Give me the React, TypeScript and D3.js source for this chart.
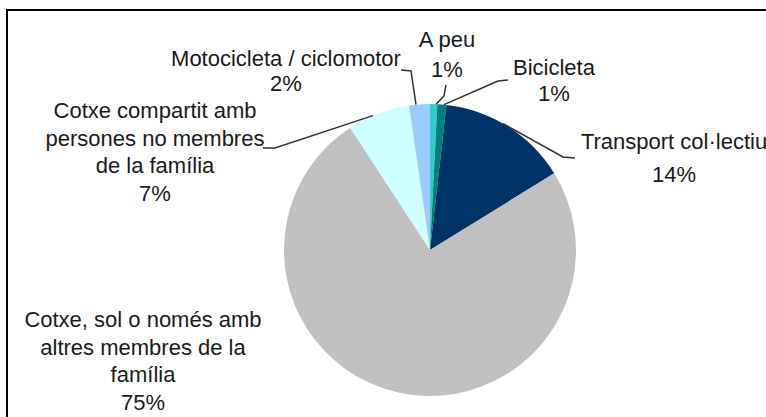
import React from "react";
import * as d3 from "d3";

const categories = [
  "A peu",
  "Bicicleta",
  "Transport col·lectiu",
  "Cotxe, sol o només amb altres membres de la família",
  "Cotxe compartit amb persones no membres de la família",
  "Motocicleta / ciclomotor",
];
const values = [0.8, 1.0, 14.4, 74.6, 6.9, 2.3];
const labelLines = [
  ["A peu"],
  ["Bicicleta"],
  ["Transport col·lectiu"],
  ["Cotxe, sol o només amb", "altres membres de la", "família"],
  ["Cotxe compartit amb", "persones no membres", "de la família"],
  ["Motocicleta / ciclomotor"],
];
const colors = ["#33CCCC", "#008080", "#003366", "#C0C0C0", "#CCFFFF", "#99CCFF"];

// layout of manually placed labels (center x, first baseline y, line height)
const labelLayout = [
  { x: 447, y: 47, lh: 30 },
  { x: 554, y: 75, lh: 26 },
  { x: 674, y: 149, lh: 33 },
  { x: 143, y: 327, lh: 27.7 },
  { x: 155, y: 118, lh: 27.5 },
  { x: 286, y: 66, lh: 25 },
];
// leader lines: label-side points, then to the pie edge at the given angle (deg from north)
const leaders: ([number, number][] | null)[] = [
  [[446, 85], [444, 96]],
  [[508, 80], [498, 81]],
  [[575, 158], [563, 157]],
  null,
  [[263, 148], [275, 148]],
  [[401, 70], [411, 71]],
];
const leaderEnds = [2.4, 5.5, 30, 0, -23, -5.5];

const W = 766;
const H = 417;
const cx = 430;
const cy = 250;
const R = 146;

export default function App() {
  const pie = d3
    .pie<number>()
    .sort(null)
    .startAngle(0)
    .endAngle(2 * Math.PI)
    .value((d) => d);
  const arcs = pie(values);
  const arc = d3.arc<d3.PieArcDatum<number>>().innerRadius(0).outerRadius(R);

  return (
    <svg
      width={W}
      height={H}
      style={{ position: "absolute", left: 0, top: 0, background: "#fff" }}
      fontFamily="'Liberation Sans', Arial, sans-serif"
    >
      <rect x={0} y={0} width={W} height={H} fill="#fff" />
      <rect x={7} y={10} width={820} height={460} fill="none" stroke="#000" strokeWidth={2} />
      <g transform={`translate(${cx},${cy})`}>
        {arcs.map((a, i) => (
          <path key={i} d={arc(a) || ""} fill={colors[i]} />
        ))}
      </g>
      {leaders.map((pts, i) => {
        if (!pts) return null;
        const a = (leaderEnds[i] * Math.PI) / 180;
        const end: [number, number] = [cx + R * Math.sin(a), cy - R * Math.cos(a)];
        const line = d3.line()([...pts, end]);
        return (
          <path key={i} d={line || ""} fill="none" stroke="#333" strokeWidth={1.5} />
        );
      })}
      {labelLines.map((lines, i) => {
        const L = labelLayout[i];
        const all = [...lines, `${Math.round(values[i])}%`];
        return (
          <text key={i} textAnchor="middle" fontSize={22} fill="#1a1a1a">
            {all.map((t, j) => (
              <tspan key={j} x={L.x} y={L.y + j * L.lh}>
                {t}
              </tspan>
            ))}
          </text>
        );
      })}
    </svg>
  );
}
